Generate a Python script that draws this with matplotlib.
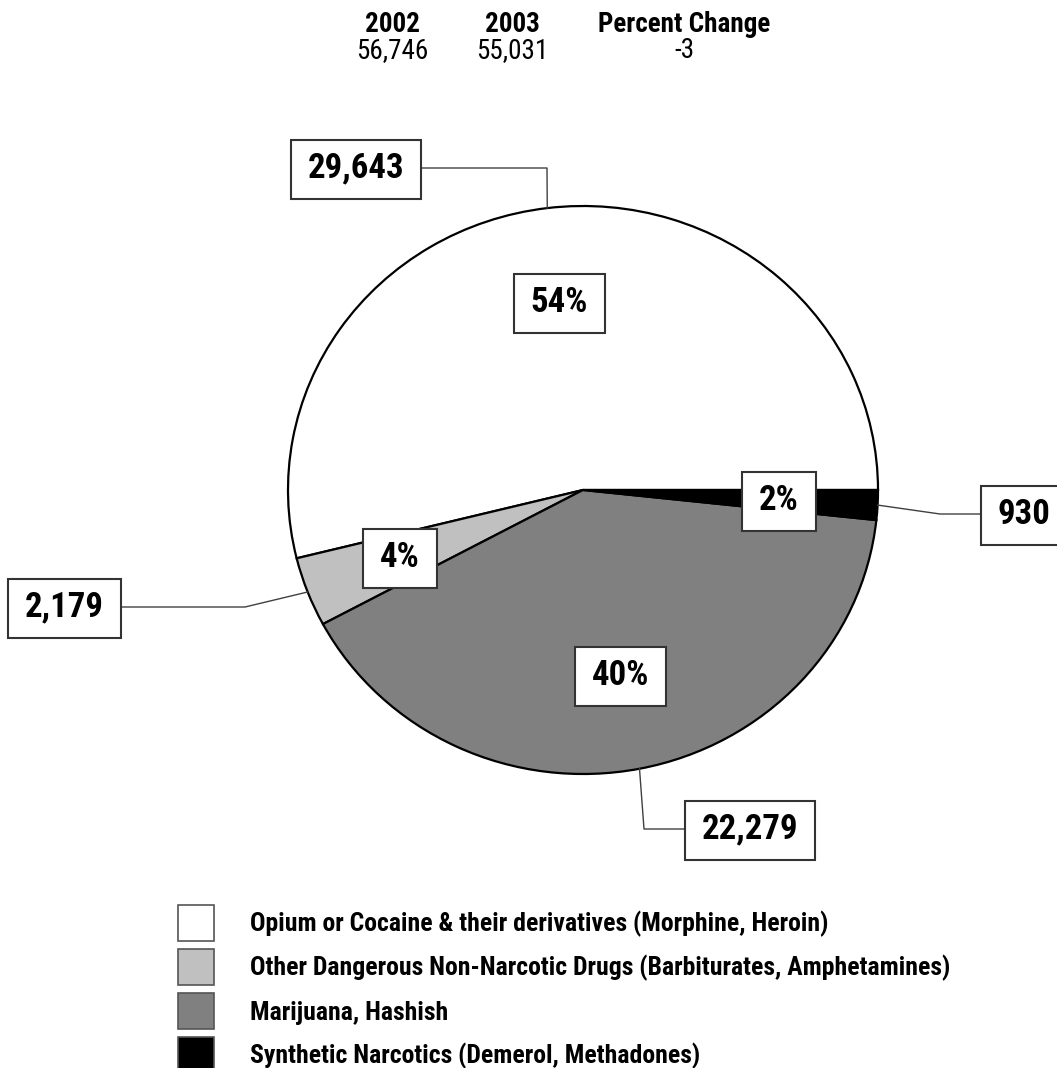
import numpy as np
import matplotlib.pyplot as plt
from matplotlib.patches import Patch, Rectangle

plt.rcParams['font.family'] = ['Roboto Condensed', 'Roboto', 'DejaVu Sans']

categories = ['Opium or Cocaine & their derivatives (Morphine, Heroin)',
              'Other Dangerous Non-Narcotic Drugs (Barbiturates, Amphetamines)',
              'Marijuana, Hashish',
              'Synthetic Narcotics (Demerol, Methadones)']
counts = [29643, 2179, 22279, 930]
colors = ['white', '#c0c0c0', '#808080', 'black']

years = ['2002', '2003']
totals = [56746, 55031]
pct_change = -3

W, H = 1057, 1068
cx, cy = 583, 490   # pie centre in pixels
rx, ry = 295, 284   # pie is a touch squashed


def X(px):
    return (px - cx) / rx


def Y(py):
    return (cy - py) / ry


fig = plt.figure(figsize=(W / 100, H / 100), dpi=100)
ax = fig.add_axes([0, 0, 1, 1])
wedges, _ = ax.pie(counts, colors=colors, startangle=0, counterclock=True,
                   wedgeprops=dict(edgecolor='black', linewidth=1.6))
ax.set_aspect('auto')
ax.set_xlim(X(0), X(W))
ax.set_ylim(Y(H), Y(0))
ax.axis('off')

total = sum(counts)
# value boxes (pixel centres) and the elbow of each leader line
value_pos = [(356, 168), (64, 607), (750, 829), (1024, 514)]
elbows = [(547, 168), (245, 607), (644, 829), (940, 514)]

boxed = []
for w, n, (bx, by), (ex, ey) in zip(wedges, counts, value_pos, elbows):
    mid = np.deg2rad((w.theta1 + w.theta2) / 2)
    boxed.append(ax.text(0.665 * np.cos(mid), 0.665 * np.sin(mid),
                         f'{round(n / total * 100)}%', ha='center', va='center',
                         fontsize=25, fontweight='bold', zorder=5))
    ax.plot([np.cos(mid), X(ex), X(bx)], [np.sin(mid), Y(ey), Y(by)],
            color='#404040', lw=1, zorder=3, clip_on=False)
    boxed.append(ax.text(X(bx), Y(by), f'{n:,}', ha='center', va='center',
                         fontsize=25, fontweight='bold', zorder=5))

# white boxes round the labels: text width + padding, fixed height
fig.canvas.draw()
rend = fig.canvas.get_renderer()
inv = ax.transData.inverted()
for t in boxed:
    bb = t.get_window_extent(rend)
    yc = (bb.y0 + bb.y1) / 2 - 1
    (x0, y0), (x1, y1) = inv.transform([(bb.x0 - 17, yc - 29.5), (bb.x1 + 17, yc + 29.5)])
    ax.add_patch(Rectangle((x0, y0), x1 - x0, y1 - y0, fc='white', ec='#333333',
                           lw=1.5, zorder=4, clip_on=False))

# header table
hx = [392, 512, 684]
heads = years + ['Percent Change']
vals = [f'{t:,}' for t in totals] + [str(pct_change)]
for x, h, v in zip(hx, heads, vals):
    ax.text(X(x), Y(32), h, ha='center', va='baseline', fontsize=19.5, fontweight='bold')
    ax.text(X(x), Y(58), v, ha='center', va='baseline', fontsize=19.5)

handles = [Patch(facecolor=c, edgecolor='#555555', lw=1.2) for c in colors]
ax.legend(handles, categories, loc='upper left', bbox_to_anchor=(178 / W, 1 - 905 / H),
          bbox_transform=fig.transFigure, frameon=False, borderpad=0, borderaxespad=0,
          prop={'weight': 'bold', 'size': 18.5}, handlelength=1.40, handleheight=1.80,
          labelspacing=0.3, handletextpad=1.40)

fig.savefig('out.png', dpi=100)
